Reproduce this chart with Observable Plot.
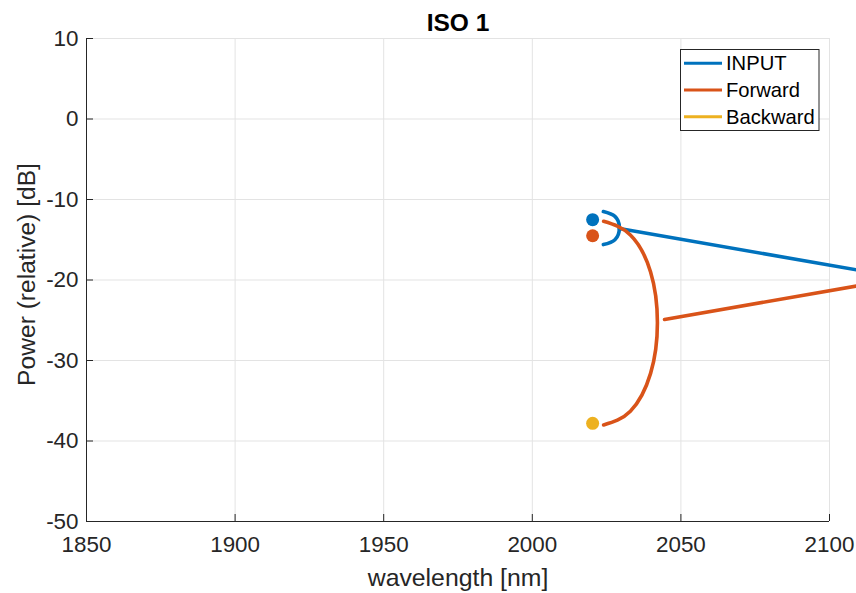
<!DOCTYPE html>
<html>
<head>
<meta charset="utf-8">
<script src="https://cdn.jsdelivr.net/npm/d3@7"></script>
<script src="https://cdn.jsdelivr.net/npm/@observablehq/plot@0.6"></script>
<style>
  html, body { margin: 0; padding: 0; background: #fff; }
  #chart { position: relative; width: 856px; height: 593px; overflow: hidden; }
</style>
</head>
<body>
<div id="chart"></div>
<script>
// ---- data ----
const titleText = "ISO 1";
const xLabel = "wavelength [nm]";
const yLabel = "Power (relative) [dB]";
const series = ["INPUT", "Forward", "Backward"];
const colors = ["#0072BD", "#D95319", "#EDB120"];
const xTicks = [1850, 1900, 1950, 2000, 2050, 2100];
const yTicks = [-50, -40, -30, -20, -10, 0, 10];
const xDomain = [1850, 2100];
const yDomain = [-50, 10];

// marker points (one per series)
const markerX = [2020.3, 2020.3, 2020.3];
const markerY = [-12.5, -14.5, -37.8];

// INPUT curve pieces
const inputArcX = [2023.9, 2027.8, 2029.3, 2027.8, 2023.9];
const inputArcY = [-11.5, -12.1, -13.5, -15.0, -15.6];
const inputLineX = [2029.3, 2110];
const inputLineY = [-13.6, -18.8];

// Forward curve pieces
const forwardArcX = [2024.0, 2033.0, 2039.8, 2042.1, 2039.8, 2033.0, 2024.0];
const forwardArcY = [-12.7, -14.4, -19.0, -25.3, -31.6, -36.3, -38.0];
const forwardLineX = [2044.5, 2110];
const forwardLineY = [-24.9, -20.7];

// ---- build tables ----
const pts = (xs, ys) => xs.map((x, i) => ({x, y: ys[i]}));
const markers = series.map((s, i) => ({s, x: markerX[i], y: markerY[i], c: colors[i]}));

const font = "Liberation Sans, Arial, Helvetica, sans-serif";
const ink = "#262626";
const gridColor = "#e3e3e3";
const W = 856, H = 593;
const mL = 86, mR = 27, mT = 38, mB = 72;
const frameW = W - mL - mR, frameH = H - mT - mB;

const chart = Plot.plot({
  width: W,
  height: H,
  marginLeft: mL,
  marginRight: mR,
  marginTop: mT,
  marginBottom: mB,
  style: {fontFamily: font, background: "#fff", color: ink},
  x: {domain: xDomain},
  y: {domain: yDomain},
  marks: [
    Plot.gridX(xTicks, {stroke: gridColor, strokeOpacity: 1}),
    Plot.gridY(yTicks, {stroke: gridColor, strokeOpacity: 1}),
    Plot.ruleX([xDomain[0]], {stroke: ink, strokeWidth: 1}),
    Plot.ruleY([yDomain[0]], {stroke: ink, strokeWidth: 1}),
    Plot.tickX(xTicks, {x: d => d, stroke: ink, insetTop: frameH - 7}),
    Plot.tickY(yTicks, {y: d => d, stroke: ink, insetRight: frameW - 7}),
    Plot.axisX(xTicks, {tickSize: 0, tickPadding: 15, fontSize: 22.4, fill: ink, tickFormat: d => String(d), label: null}),
    Plot.axisY(yTicks, {tickSize: 0, tickPadding: 8, fontSize: 22.4, fill: ink, tickFormat: d => String(d), label: null}),
    // series
    Plot.line(pts(inputArcX, inputArcY), {x: "x", y: "y", stroke: colors[0], strokeWidth: 3.6, curve: "natural"}),
    Plot.line(pts(inputLineX, inputLineY), {x: "x", y: "y", stroke: colors[0], strokeWidth: 3.6}),
    Plot.line(pts(forwardArcX, forwardArcY), {x: "x", y: "y", stroke: colors[1], strokeWidth: 3.6, curve: "natural"}),
    Plot.line(pts(forwardLineX, forwardLineY), {x: "x", y: "y", stroke: colors[1], strokeWidth: 3.6}),
    Plot.dot(markers, {x: "x", y: "y", fill: "c", r: 6.5, stroke: null}),
    // texts
    Plot.text([titleText], {text: d => d, frameAnchor: "top", textAnchor: "middle", lineAnchor: "middle", dy: -15, fontSize: 24.5, fontWeight: "bold", fill: "#000"}),
    Plot.text([xLabel], {text: d => d, frameAnchor: "bottom", textAnchor: "middle", lineAnchor: "middle", dy: 57, fontSize: 24.8, fill: ink}),
    Plot.text([yLabel], {text: d => d, frameAnchor: "left", textAnchor: "middle", lineAnchor: "middle", dx: -59, dy: -5.5, rotate: -90, fontSize: 24.6, fill: ink})
  ]
});

// ---- legend (MATLAB-style box, upper right) ----
const svg = d3.select(chart);
const lg = svg.append("g").attr("font-family", font).attr("font-size", 20.2).attr("text-anchor", "start");
const boxX = 680.5, boxY = 49.5, boxW = 138.5, boxH = 81, rowH = 26.7, row0 = 63.3;
lg.append("rect").attr("x", boxX).attr("y", boxY).attr("width", boxW).attr("height", boxH)
  .attr("fill", "#fff").attr("stroke", ink).attr("stroke-width", 1);
series.forEach((s, i) => {
  const yy = row0 + i * rowH;
  lg.append("line").attr("x1", 684).attr("x2", 722).attr("y1", yy).attr("y2", yy)
    .attr("stroke", colors[i]).attr("stroke-width", 3);
  lg.append("text").attr("x", 726).attr("y", yy).attr("dy", "0.35em")
    .attr("text-anchor", "start").attr("fill", "#000").text(s);
});

document.getElementById("chart").appendChild(chart);
</script>
</body>
</html>
